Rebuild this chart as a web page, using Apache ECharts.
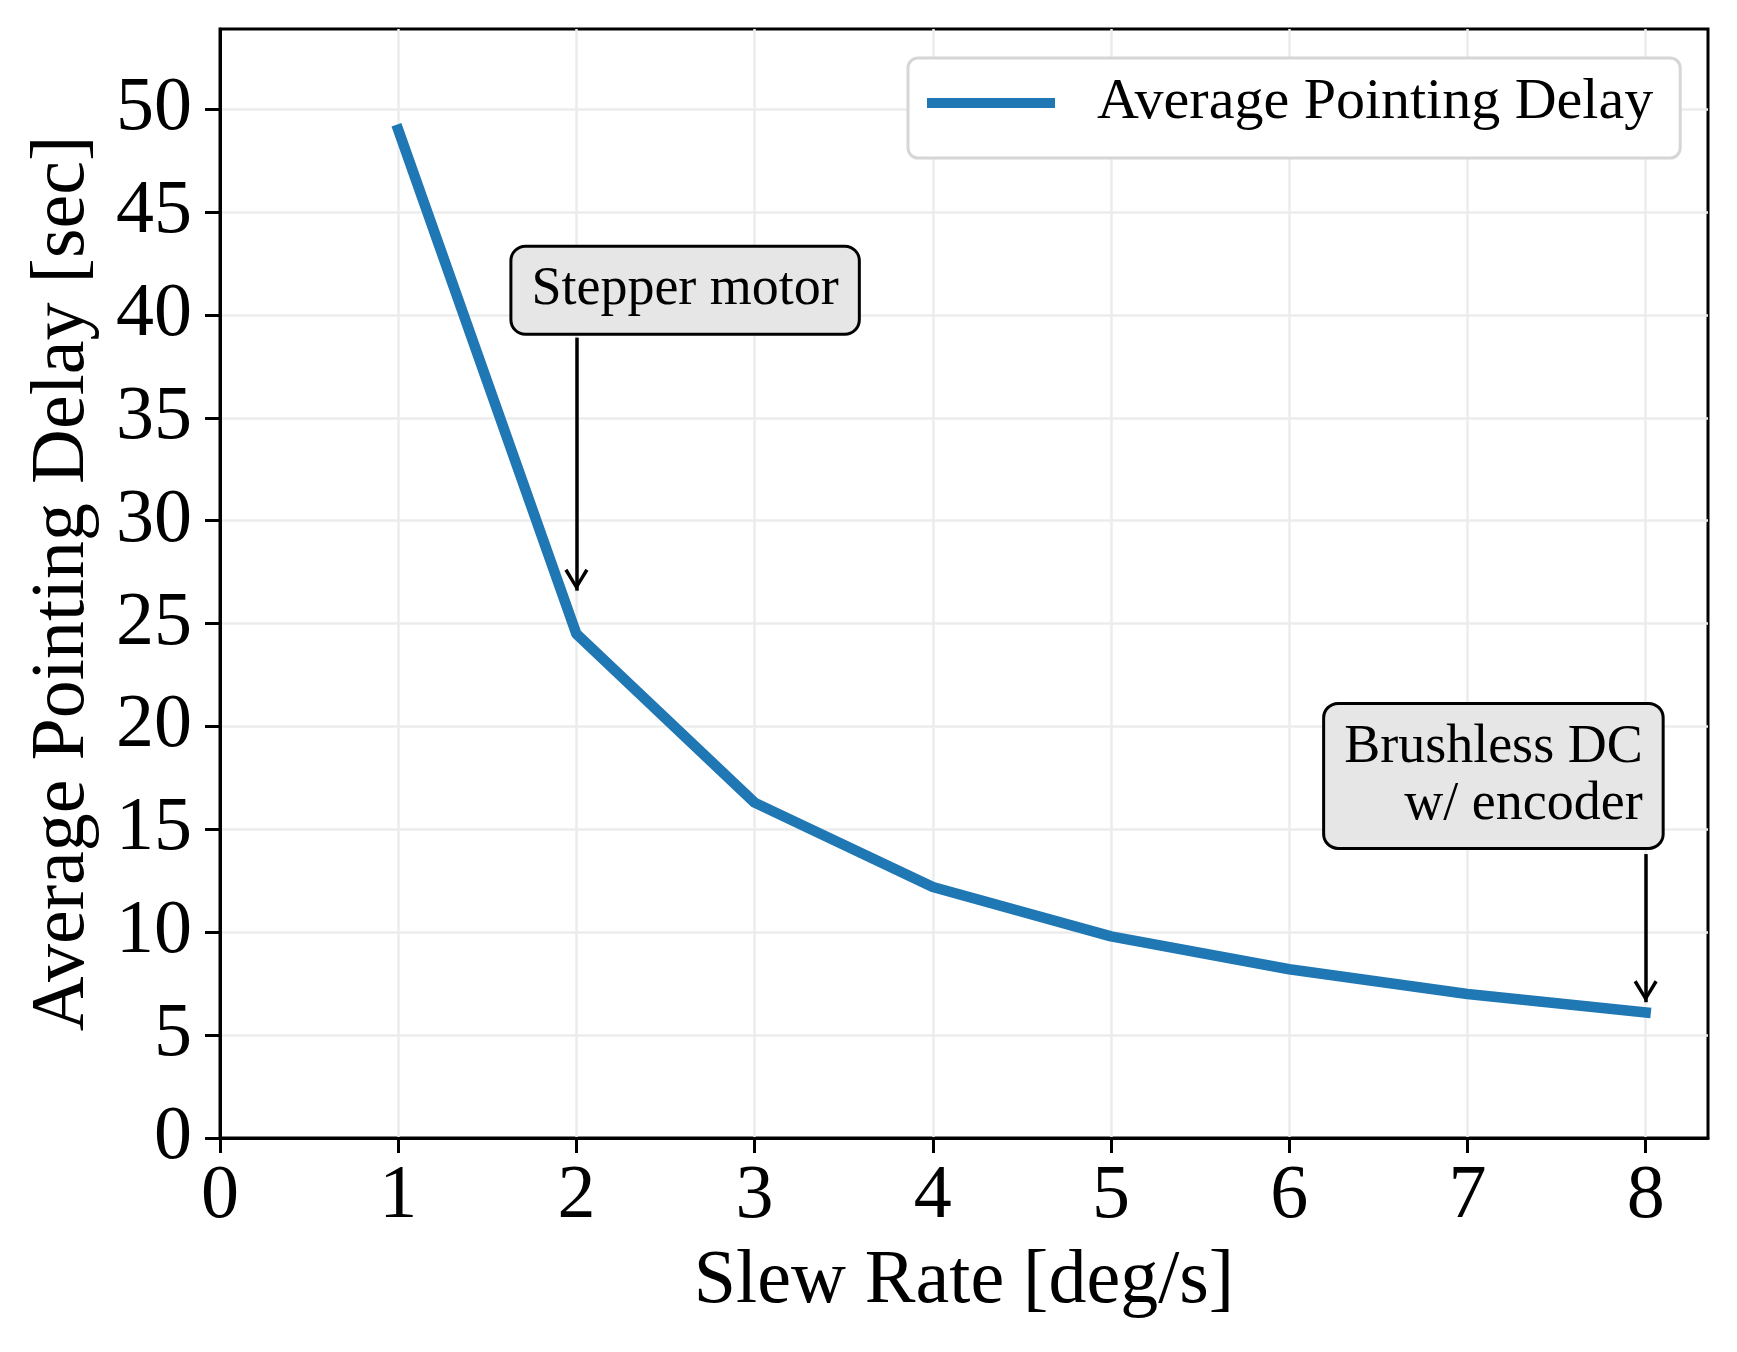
<!DOCTYPE html>
<html>
<head>
<meta charset="utf-8">
<script src="https://cdn.jsdelivr.net/npm/echarts@6/dist/echarts.min.js"></script>
<style>
html,body{margin:0;padding:0;background:#fff;}
#chart{width:1737px;height:1352px;}
</style>
</head>
<body>
<div id="chart"></div>
<script>
// ---- data ----
const slewRates = [1, 2, 3, 4, 5, 6, 7, 8];
const avgDelay = [49.0, 24.5, 16.3, 12.2, 9.8, 8.2, 7.0, 6.1];
const xTickValues = [0, 1, 2, 3, 4, 5, 6, 7, 8];
const yTickValues = [0, 5, 10, 15, 20, 25, 30, 35, 40, 45, 50];
const seriesName = 'Average Pointing Delay';
const xAxisTitle = 'Slew Rate [deg/s]';
const yAxisTitle = 'Average Pointing Delay [sec]';
const stepperText = 'Stepper motor';
const stepperBoxAt = [2.61, 41.2];
const stepperArrow = [[2, 38.9], [2, 26.6]];
const brushlessText = 'Brushless DC\nw/ encoder';
const brushlessBoxAt = [8.09, 17.6];
const brushlessArrow = [[8, 13.8], [8, 6.6]];

const FONT = '"Liberation Serif", "Times New Roman", serif';
const chevron = 'path://M12,22 L24,41 L21,43 L12,28 L3,43 L0,41 Z M12,0 L12.02,0 L12,0.02 Z';

const chart = echarts.init(document.getElementById('chart'), null, {renderer: 'canvas'});

const boxLabel = {
  show: true,
  fontFamily: FONT,
  fontSize: 54,
  lineHeight: 57,
  color: '#000',
  backgroundColor: '#e6e6e6',
  borderColor: '#000',
  borderWidth: 3,
  borderRadius: 13,
  padding: [14, 19, 14, 19]
};

const option = {
  backgroundColor: '#fff',
  animation: false,
  textStyle: {fontFamily: FONT},
  grid: {
    left: 220, top: 29, right: 29, bottom: 214,
    show: true, borderColor: '#000', borderWidth: 3, backgroundColor: 'transparent'
  },
  legend: {
    show: true,
    data: [seriesName],
    left: 908, top: 58,
    orient: 'vertical',
    icon: 'rect',
    itemWidth: 128, itemHeight: 10,
    padding: [10, 27, 20, 19],
    backgroundColor: '#fff',
    borderColor: '#d6d6d6',
    borderWidth: 3,
    borderRadius: 10,
    textStyle: {fontFamily: FONT, fontSize: 58, lineHeight: 58, color: '#000', padding: [12, 0, 0, 37]}
  },
  xAxis: {
    type: 'value',
    min: 0, max: 8.35, interval: 1,
    name: xAxisTitle,
    nameLocation: 'middle',
    nameGap: 106,
    nameTextStyle: {fontFamily: FONT, fontSize: 76, color: '#000'},
    axisLine: {show: true, onZero: false, lineStyle: {color: '#000', width: 3}},
    axisTick: {show: true, length: 15, inside: false, lineStyle: {color: '#000', width: 3}, customValues: xTickValues},
    axisLabel: {show: true, margin: 21, fontFamily: FONT, fontSize: 76, color: '#000', customValues: xTickValues},
    splitLine: {show: true, lineStyle: {color: '#ececec', width: 2.5}}
  },
  yAxis: {
    type: 'value',
    min: 0, max: 53.9, interval: 5,
    name: yAxisTitle,
    nameLocation: 'middle',
    nameRotate: 90,
    nameGap: 119,
    nameTextStyle: {fontFamily: FONT, fontSize: 76, color: '#000'},
    axisLine: {show: true, onZero: false, lineStyle: {color: '#000', width: 3}},
    axisTick: {show: true, length: 15, inside: false, lineStyle: {color: '#000', width: 3}, customValues: yTickValues},
    axisLabel: {show: true, margin: 28, fontFamily: FONT, fontSize: 76, color: '#000', customValues: yTickValues},
    splitLine: {show: true, lineStyle: {color: '#ececec', width: 2.5}}
  },
  series: [
    {
      name: seriesName,
      type: 'line',
      data: slewRates.map((x, i) => [x, avgDelay[i]]),
      showSymbol: false,
      symbol: 'none',
      color: '#1f77b4',
      lineStyle: {color: '#1f77b4', width: 10.5, cap: 'square', join: 'round'},
      itemStyle: {color: '#1f77b4'},
      z: 3,
      markLine: {
        silent: true,
        animation: false,
        symbol: ['none', chevron],
        symbolSize: [24, 44],
        lineStyle: {color: '#000', width: 3.5, type: 'solid'},
        label: {show: false},
        emphasis: {disabled: true},
        data: [
          [{coord: stepperArrow[0]}, {coord: stepperArrow[1]}],
          [{coord: brushlessArrow[0]}, {coord: brushlessArrow[1]}]
        ],
        z: 5
      },
      markPoint: {
        silent: true,
        animation: false,
        symbol: 'circle',
        symbolSize: 0,
        itemStyle: {color: 'transparent'},
        data: [
          {coord: stepperBoxAt, label: Object.assign({}, boxLabel, {formatter: stepperText, position: 'inside', align: 'center', verticalAlign: 'middle'})},
          {coord: brushlessBoxAt, label: Object.assign({}, boxLabel, {formatter: brushlessText, position: 'inside', align: 'right', verticalAlign: 'middle'})}
        ],
        z: 6
      }
    }
  ]
};

chart.setOption(option);
</script>
</body>
</html>
